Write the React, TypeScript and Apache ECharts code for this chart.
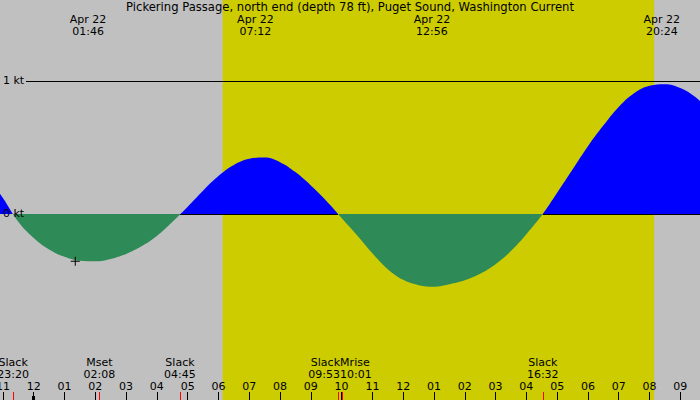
import React, { useEffect, useRef } from 'react';
import * as echarts from 'echarts';

const TITLE = 'Pickering Passage, north end (depth 78 ft), Puget Sound, Washington Current';

// Current speed (kt, + flood / - ebb), sampled every half hour, hours since Apr 22 00:00
const curveHours = [-1.5, -1.0, -0.5, 0.0, 0.5, 1.0, 1.5, 2.0, 2.5, 3.0, 3.5, 4.0, 4.5, 5.0, 5.5, 6.0, 6.5, 7.0, 7.5, 8.0, 8.5, 9.0, 9.5, 10.0, 10.5, 11.0, 11.5, 12.0, 12.5, 13.0, 13.5, 14.0, 14.5, 15.0, 15.5, 16.0, 16.5, 17.0, 17.5, 18.0, 18.5, 19.0, 19.5, 20.0, 20.5, 21.0, 21.5, 22.0];
const curveKt = [0.28, 0.12, -0.058, -0.18, -0.266, -0.322, -0.352, -0.356, -0.338, -0.3, -0.243, -0.165, -0.06, 0.055, 0.175, 0.285, 0.368, 0.415, 0.424, 0.39, 0.315, 0.215, 0.1, -0.03, -0.16, -0.295, -0.415, -0.495, -0.535, -0.547, -0.528, -0.498, -0.449, -0.378, -0.278, -0.152, -0.01, 0.16, 0.335, 0.51, 0.665, 0.805, 0.908, 0.964, 0.976, 0.947, 0.877, 0.764];

// Bottom events
const eventDay = [21, 22, 22, 22, 22, 22];
const eventClock = ['23:20', '02:08', '04:45', '09:53', '10:01', '16:32'];
const eventNames = ['Slack', 'Mset', 'Slack', 'Slack', 'Mrise', 'Slack'];

// Top labels (max flood / ebb)
const extremeDate = ['Apr 22', 'Apr 22', 'Apr 22', 'Apr 22'];
const extremeClock = ['01:46', '07:12', '12:56', '20:24'];

// Daylight
const sunriseClock = '06:08';
const sunsetClock = '20:09';

// "+" marker
const markerClock = ['01:21'];
const markerKt = [-0.356];

const hourTicks = [-1, 0, 1, 2, 3, 4, 5, 6, 7, 8, 9, 10, 11, 12, 13, 14, 15, 16, 17, 18, 19, 20, 21];
const midnightTicks = [0];
const ktTicks = [0, 1];

// axis extents (layout)
const XMIN = -1.0945;
const XMAX = 21.64;
const YMIN = -1.3985;
const YMAX = 1.609;

const toHours = (clock: string, day = 22) => {
  const [h, m] = clock.split(':').map(Number);
  return (day - 22) * 24 + h + m / 60;
};

const FONT = 'DejaVu Sans';
const YELLOW = '#cccc00';
const GRAY = '#c0c0c0';
const BLUE = '#0000ff';
const GREEN = '#2e8b57';

export default function App() {
  const ref = useRef<HTMLDivElement>(null);
  useEffect(() => {
    if (!ref.current) return;
    const chart = echarts.init(ref.current, undefined, { renderer: 'svg' });

    const eventHours = eventClock.map((c, i) => toHours(c, eventDay[i]));
    const extremeHours = extremeClock.map((c) => toHours(c));
    const findIdx = (arr: number[], v: number) => {
      let best = 0;
      arr.forEach((t, i) => { if (Math.abs(t - v) < Math.abs(arr[best] - v)) best = i; });
      return best;
    };

    // alignment of the event labels (style)
    const alignOf = (i: number) => (i === 3 ? 'right' : i === 4 ? 'left' : 'center');
    const groupVals = (a: string) => eventHours.filter((_, i) => alignOf(i) === a);

    const slackHours = eventHours.filter((_, i) => eventNames[i] === 'Slack');
    const zeroSegs: any[] = [];
    slackHours.forEach((s, k) => {
      const j = curveHours.findIndex((t) => t > s + 0.01);
      if (j >= 0 && curveKt[j] > 0) {
        const end = k + 1 < slackHours.length ? slackHours[k + 1] : XMAX;
        zeroSegs.push([{ xAxis: s, yAxis: 0 }, { xAxis: end, yAxis: 0 }]);
      }
    });

    const textBase = { color: '#000', fontSize: 11, fontFamily: FONT };
    const baseX = {
      type: 'value',
      min: XMIN,
      max: XMAX,
      gridIndex: 0,
      z: 10,
      axisLine: { show: false, onZero: false },
      splitLine: { show: false },
    };
    const eventAxis = (a: string, withTicks: boolean) => ({
      ...baseX,
      position: 'bottom',
      axisTick: withTicks
        ? { show: true, inside: true, length: 8, customValues: eventHours, lineStyle: { color: '#ff0000', width: 1 } }
        : { show: false },
      axisLabel: {
        ...textBase,
        inside: true,
        margin: 20,
        lineHeight: 12,
        align: a,
        padding: a === 'right' ? [0, -2, 0, 0] : a === 'left' ? [0, 0, 0, -2] : 0,
        customValues: groupVals(a),
        formatter: (v: number) => {
          const i = findIdx(eventHours, v);
          return `${eventNames[i]}\n${eventClock[i]}`;
        },
      },
    });

    const option: any = {
      animation: false,
      backgroundColor: GRAY,
      title: {
        text: TITLE,
        left: 'center',
        top: 1,
        padding: 0,
        textStyle: { ...textBase, fontSize: 11.6, fontWeight: 'normal', lineHeight: 12 },
      },
      grid: { left: 0, right: 0, top: 0, bottom: 0, containLabel: false, outerBoundsMode: 'none' },
      visualMap: {
        type: 'piecewise',
        show: false,
        seriesIndex: 0,
        dimension: 1,
        pieces: [
          { gte: -5, lt: 0, color: GREEN },
          { gte: 0, lte: 5, color: BLUE },
        ],
      },
      xAxis: [
        {
          ...baseX,
          position: 'bottom',
          axisTick: { show: true, inside: true, length: 8, customValues: hourTicks, lineStyle: { color: '#000', width: 1 } },
          axisLabel: {
            ...textBase,
            inside: true,
            margin: 8,
            customValues: hourTicks,
            formatter: (v: number) => {
              const h = Math.round(v);
              const h12 = ((h % 12) + 12) % 12 || 12;
              return String(h12).padStart(2, '0');
            },
          },
        },
        {
          ...baseX,
          position: 'bottom',
          axisTick: { show: true, inside: true, length: 4, customValues: midnightTicks, lineStyle: { color: '#000', width: 3 } },
          axisLabel: { show: false },
        },
        eventAxis('center', true),
        eventAxis('right', false),
        eventAxis('left', false),
        {
          ...baseX,
          position: 'top',
          axisTick: { show: false },
          axisLabel: {
            ...textBase,
            inside: true,
            margin: 13,
            lineHeight: 12,
            customValues: extremeHours,
            formatter: (v: number) => {
              const i = findIdx(extremeHours, v);
              return `${extremeDate[i]}\n${extremeClock[i]}`;
            },
          },
        },
      ],
      yAxis: {
        type: 'value',
        min: YMIN,
        max: YMAX,
        z: 10,
        axisLine: { show: false, onZero: false },
        axisTick: { show: false },
        splitLine: { show: false },
        axisLabel: {
          ...textBase,
          inside: true,
          margin: 3,
          customValues: ktTicks,
          formatter: (v: number) => `${Math.round(v)} kt`,
        },
      },
      series: [
        {
          type: 'line',
          xAxisIndex: 0,
          yAxisIndex: 0,
          data: curveHours.map((t, i) => [t, curveKt[i]]),
          smooth: 0.4,
          showSymbol: false,
          silent: true,
          lineStyle: { width: 0, opacity: 0 },
          areaStyle: { opacity: 1 },
          z: 2,
          markArea: {
            silent: true,
            itemStyle: { color: YELLOW, opacity: 1 },
            data: [[{ xAxis: toHours(sunriseClock) }, { xAxis: toHours(sunsetClock) }]],
          },
          markLine: {
            silent: true,
            symbol: ['none', 'none'],
            label: { show: false },
            lineStyle: { color: '#000', width: 1, type: 'solid', opacity: 1 },
            emphasis: { disabled: true },
            data: [
              [{ x: 26, yAxis: 1 }, { xAxis: XMAX, yAxis: 1 }],
              ...zeroSegs,
            ],
          },
        },
        {
          type: 'scatter',
          xAxisIndex: 0,
          yAxisIndex: 0,
          silent: true,
          z: 6,
          symbol: 'path://M0,4L9,4L9,5L0,5ZM4,0L5,0L5,9L4,9Z',
          symbolSize: 9,
          itemStyle: { color: '#000', opacity: 1 },
          data: markerClock.map((c, i) => [toHours(c), markerKt[i]]),
        },
      ],
    };
    chart.setOption(option);
    return () => chart.dispose();
  }, []);
  return <div ref={ref} style={{ position: 'absolute', left: 0, top: 0, width: 700, height: 400 }} />;
}
